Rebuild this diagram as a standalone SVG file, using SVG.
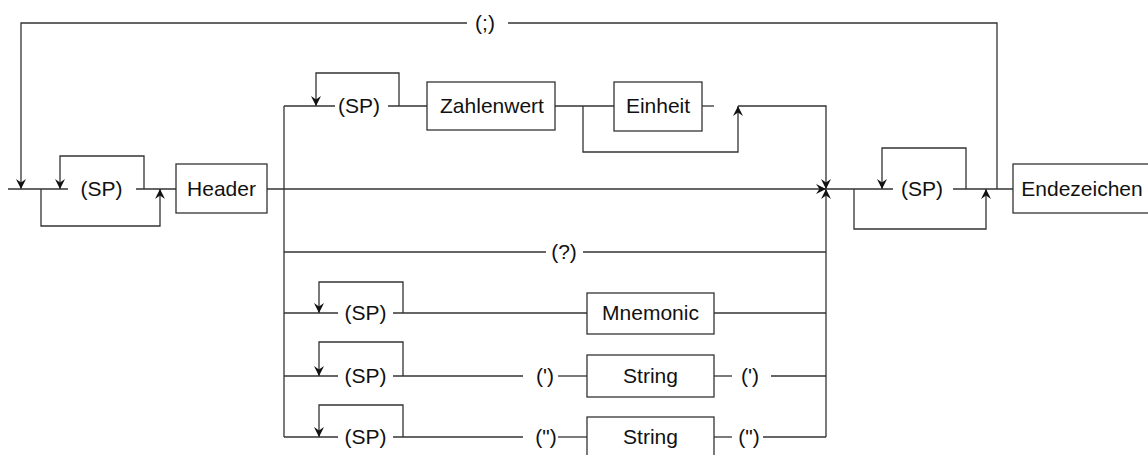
<svg xmlns="http://www.w3.org/2000/svg" width="1148" height="455" viewBox="0 0 1148 455">
<style>
.c{fill:none;stroke:#333;stroke-width:1.3}
.b{fill:#fff;stroke:#333;stroke-width:1.3}
.t{font-family:"Liberation Sans",Arial,sans-serif;font-size:21px;fill:#111;text-anchor:middle}
</style>
<defs>
<marker id="a" viewBox="-12 -7 14 14" markerWidth="14" markerHeight="14" refX="0" refY="0" orient="auto" markerUnits="userSpaceOnUse">
<path d="M0,0 L-10,-5 L-6.5,0 L-10,5 Z" fill="#111"/>
</marker>
</defs>
<rect width="1148" height="455" fill="#fff"/>
<g id="connectors">
<path class="c" d="M997,189 V23 H508"/>
<path class="c" d="M467,23 H21 V189" marker-end="url(#a)"/>
<path class="c" d="M8,189 H68"/>
<path class="c" d="M136,189 H176"/>
<path class="c" d="M144,189 V156 H60 V189" marker-end="url(#a)"/>
<path class="c" d="M41,189 V226 H160 V189" marker-end="url(#a)"/>
<path class="c" d="M267,189 H826" marker-end="url(#a)"/>
<path class="c" d="M284,106 V437"/>
<path class="c" d="M284,106 H335"/>
<path class="c" d="M388,106 H427"/>
<path class="c" d="M399,106 V73 H316 V106" marker-end="url(#a)"/>
<path class="c" d="M555,106 H614"/>
<path class="c" d="M702,106 H714"/>
<path class="c" d="M583,106 V152 H738 V106" marker-end="url(#a)"/>
<path class="c" d="M738,106 H826 V189" marker-end="url(#a)"/>
<path class="c" d="M826,437 V189" marker-end="url(#a)"/>
<path class="c" d="M284,252 H546"/>
<path class="c" d="M583,252 H826"/>
<path class="c" d="M284,313 H338"/>
<path class="c" d="M393,313 H587"/>
<path class="c" d="M714,313 H826"/>
<path class="c" d="M403,313 V282 H319 V313" marker-end="url(#a)"/>
<path class="c" d="M284,376 H338"/>
<path class="c" d="M393,376 H523"/>
<path class="c" d="M558,376 H587"/>
<path class="c" d="M714,376 H732"/>
<path class="c" d="M771,376 H826"/>
<path class="c" d="M403,376 V342 H319 V376" marker-end="url(#a)"/>
<path class="c" d="M284,437 H338"/>
<path class="c" d="M393,437 H523"/>
<path class="c" d="M558,437 H587"/>
<path class="c" d="M714,437 H732"/>
<path class="c" d="M763,437 H826"/>
<path class="c" d="M403,437 V405 H319 V437" marker-end="url(#a)"/>
<path class="c" d="M826,189 H893"/>
<path class="c" d="M953,189 H1013"/>
<path class="c" d="M966,189 V148 H882 V189" marker-end="url(#a)"/>
<path class="c" d="M854,189 V229 H986 V189" marker-end="url(#a)"/>
</g>
<g id="semicolon"><text class="t" x="485" y="30">(;)</text></g>
<g id="sp1"><text class="t" x="101.5" y="196">(SP)</text></g>
<g id="header"><rect class="b" x="176" y="164" width="91" height="49"/><text class="t" x="221.5" y="196">Header</text></g>
<g id="sp2"><text class="t" x="359" y="113">(SP)</text></g>
<g id="zahlenwert"><rect class="b" x="427" y="82" width="128" height="48"/><text class="t" x="492" y="113">Zahlenwert</text></g>
<g id="einheit"><rect class="b" x="614" y="82" width="88" height="49"/><text class="t" x="658" y="113">Einheit</text></g>
<g id="query"><text class="t" x="564" y="259">(?)</text></g>
<g id="sp3"><text class="t" x="365.5" y="320">(SP)</text></g>
<g id="mnemonic"><rect class="b" x="587" y="293" width="127" height="41"/><text class="t" x="650.5" y="320">Mnemonic</text></g>
<g id="sp4"><text class="t" x="365.5" y="383">(SP)</text></g>
<g id="q1a"><text class="t" x="545" y="383">(')</text></g>
<g id="string1"><rect class="b" x="587" y="355" width="127" height="42"/><text class="t" x="650.5" y="383">String</text></g>
<g id="q1b"><text class="t" x="750" y="383">(')</text></g>
<g id="sp5"><text class="t" x="365.5" y="444">(SP)</text></g>
<g id="q2a"><text class="t" x="546" y="444">(")</text></g>
<g id="string2"><rect class="b" x="587" y="417" width="127" height="45"/><text class="t" x="650.5" y="444">String</text></g>
<g id="q2b"><text class="t" x="749" y="444">(")</text></g>
<g id="sp6"><text class="t" x="922" y="196">(SP)</text></g>
<g id="endezeichen"><rect class="b" x="1013" y="164" width="140" height="49"/><text class="t" x="1082" y="196">Endezeichen</text></g>
</svg>
